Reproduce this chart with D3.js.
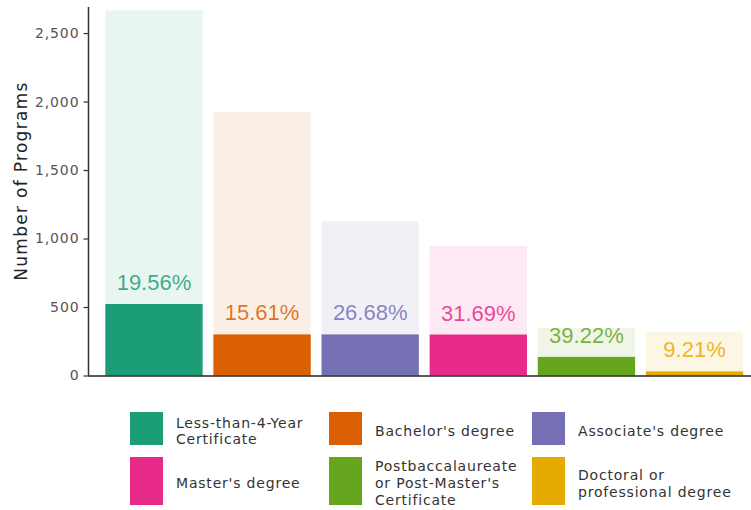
<!DOCTYPE html>
<html>
<head>
<meta charset="utf-8">
<script src="https://cdn.jsdelivr.net/npm/d3@7"></script>
<style>
  body { margin: 0; background: #fff; }
  .legend text { font-family: "DejaVu Sans", sans-serif; font-size: 14px; letter-spacing: 0.8px; fill: #333; }
  .pct { font-family: "Liberation Sans", Arial, sans-serif; font-size: 22px; }
</style>
</head>
<body>
<div id="chart"></div>
<script>
// degree types, in bar order
var categories = [
  "Less-than-4-Year Certificate",
  "Bachelor's degree",
  "Associate's degree",
  "Master's degree",
  "Postbaccalaureate or Post-Master's Certificate",
  "Doctoral or professional degree"
]
// legend labels split into lines
var legendLines = [
  ["Less-than-4-Year", "Certificate"],
  ["Bachelor's degree"],
  ["Associate's degree"],
  ["Master's degree"],
  ["Postbaccalaureate", "or Post-Master's", "Certificate"],
  ["Doctoral or", "professional degree"]
]
var totals = [2666, 1922, 1126, 945, 347, 322]
var counts = [522, 300, 300, 299, 136, 30]
var pctLabels = ["19.56%", "15.61%", "26.68%", "31.69%", "39.22%", "9.21%"]
var yTicks = [0, 500, 1000, 1500, 2000, 2500]
var colors = ["#1b9e77", "#d95f02", "#7570b3", "#e7298a", "#66a61e", "#e6ab02"]

var width = 751
var height = 510

var svg = d3.select('#chart').append('svg')
  .attr('width', width)
  .attr('height', height)

var x = d3.scaleBand()
  .domain(categories)
  .range([94.5, 754])
  .paddingInner(0.1)
  .paddingOuter(0.1)

var y = d3.scaleLinear()
  .domain([0, 2690])
  .range([375.5, 7])

// light background bars = all programs
svg.append('g').selectAll('rect')
  .data(categories)
  .enter().append('rect')
  .attr('x', function(d) { return x(d) })
  .attr('width', x.bandwidth())
  .attr('y', function(d, i) { return y(totals[i]) })
  .attr('height', function(d, i) { return y(0) - y(totals[i]) })
  .attr('fill', function(d, i) { return colors[i] })
  .attr('fill-opacity', 0.1)

// solid bars = subset
svg.append('g').selectAll('rect')
  .data(categories)
  .enter().append('rect')
  .attr('x', function(d) { return x(d) })
  .attr('width', x.bandwidth())
  .attr('y', function(d, i) { return y(counts[i]) })
  .attr('height', function(d, i) { return y(0) - y(counts[i]) })
  .attr('fill', function(d, i) { return colors[i] })

svg.append('g').selectAll('text')
  .data(categories)
  .enter().append('text')
  .attr('class', 'pct')
  .attr('x', function(d) { return x(d) + x.bandwidth() / 2 })
  .attr('y', function(d, i) { return y(counts[i]) - 14 })
  .attr('text-anchor', 'middle')
  .attr('fill', function(d, i) { return colors[i] })
  .attr('fill-opacity', 0.85)
  .text(function(d, i) { return pctLabels[i] })

// y axis
var yAxis = svg.append('g')
  .attr('transform', 'translate(88.5,0)')
  .call(d3.axisLeft(y).tickValues(yTicks).tickSize(5).tickPadding(4).tickFormat(d3.format(',')))
yAxis.select('.domain').attr('d', 'M0,' + y.range()[1] + 'V' + y(0)).attr('stroke', '#333').attr('stroke-width', 1.5)
yAxis.selectAll('.tick line').attr('stroke', '#333').attr('stroke-width', 1.2)
yAxis.selectAll('.tick text')
  .style('font-family', '"DejaVu Sans", sans-serif')
  .style('font-size', '14px')
  .style('letter-spacing', '0.9px')
  .attr('fill', '#555')

// x axis baseline
svg.append('line')
  .attr('x1', 88)
  .attr('x2', width)
  .attr('y1', y(0) + 0.5)
  .attr('y2', y(0) + 0.5)
  .attr('stroke', '#222')
  .attr('stroke-width', 1.6)

svg.append('text')
  .attr('transform', 'translate(27,181) rotate(-90)')
  .attr('text-anchor', 'middle')
  .style('font-family', '"DejaVu Sans", sans-serif')
  .style('font-size', '17px')
  .style('letter-spacing', '1.3px')
  .attr('fill', '#222')
  .text('Number of Programs')

// legend, 3 columns x 2 rows
var colX = [130, 329, 532]
var rowY = [412, 457]
var rowH = [33, 48]
var lineH = [16, 17]

var legend = svg.append('g').attr('class', 'legend')
var item = legend.selectAll('g')
  .data(categories)
  .enter().append('g')
  .attr('transform', function(d, i) {
    return 'translate(' + colX[i % 3] + ',' + rowY[Math.floor(i / 3)] + ')'
  })

item.append('rect')
  .attr('width', 33)
  .attr('height', function(d, i) { return rowH[Math.floor(i / 3)] })
  .attr('fill', function(d, i) { return colors[i] })

item.append('text')
  .attr('x', 46)
  .each(function(d, i) {
    var lines = legendLines[i]
    var r = Math.floor(i / 3)
    var lh = lineH[r]
    var first = rowH[r] / 2 - (lines.length - 1) * lh / 2 + 7
    var t = d3.select(this)
    lines.forEach(function(l, j) {
      t.append('tspan').attr('x', 46).attr('y', first + j * lh).text(l)
    })
  })
</script>
</body>
</html>
